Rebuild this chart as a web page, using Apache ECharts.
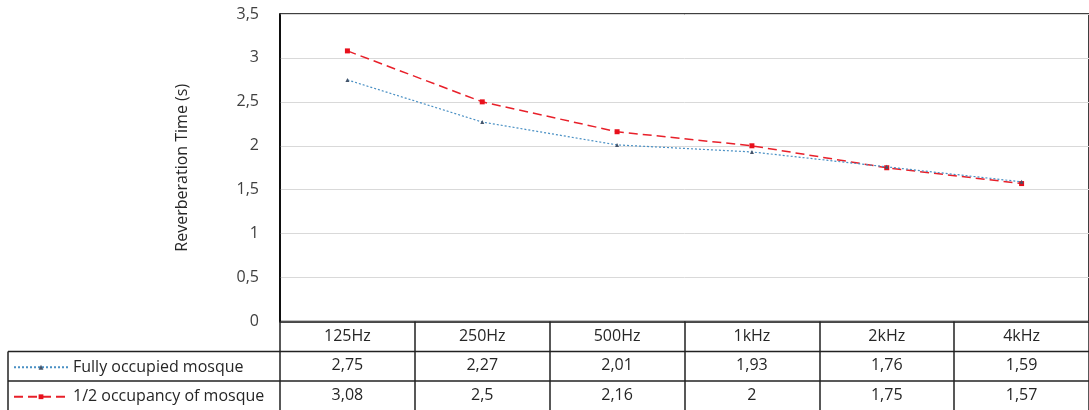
<!DOCTYPE html>
<html>
<head>
<meta charset="utf-8">
<script src="https://cdn.jsdelivr.net/npm/echarts@6/dist/echarts.min.js"></script>
<style>html,body{margin:0;padding:0;background:#fff;}#c{width:1089px;height:410px;}</style>
</head>
<body>
<div id="c"></div>
<script>
var categories = ['125Hz', '250Hz', '500Hz', '1kHz', '2kHz', '4kHz'];
var fullyOccupied = [2.75, 2.27, 2.01, 1.93, 1.76, 1.59];
var halfOccupancy = [3.08, 2.5, 2.16, 2, 1.75, 1.57];
var seriesNames = ['Fully occupied mosque', '1/2 occupancy of mosque'];
var yAxisName = 'Reverberation Time (s)';

function fmt(v) { return String(v).replace('.', ','); }

var GL = 280, GT = 14, GW = 818, GH = 308;
var ROW = 29.5;
var FONT = '"Open Sans", "Noto Sans", sans-serif';
var FS = 16;
var TXT = '#262626';
var lineCol = '#222';

function legendFor(i) {
  return {
    orient: 'vertical', left: 13, top: GT + GH + ROW * (i + 1) + ROW / 2 - 7,
    padding: 0,
    itemWidth: 54, itemHeight: 6, itemGap: 5,
    textStyle: {fontFamily: FONT, fontSize: FS, color: TXT},
    data: [seriesNames[i]]
  };
}

var chart = echarts.init(document.getElementById('c'), null, {renderer: 'canvas'});
chart.setOption({
  animation: false,
  backgroundColor: '#fff',
  grid: {left: GL, top: GT, width: GW, height: GH, show: true, borderColor: '#000', borderWidth: 1.5, containLabel: false},
  legend: [legendFor(0), legendFor(1)],
  xAxis: {
    type: 'category', data: categories, boundaryGap: true,
    axisLine: {show: true, lineStyle: {color: lineCol, width: 1.5}},
    axisTick: {show: true, alignWithLabel: false, length: 90, lineStyle: {color: lineCol, width: 1.5}},
    axisLabel: {
      interval: 0, margin: 0,
      formatter: function (v, i) {
        return '{h|' + v + '}\n{v|' + fmt(fullyOccupied[i]) + '}\n{v|' + fmt(halfOccupancy[i]) + '}';
      },
      rich: {
        h: {fontFamily: FONT, fontSize: FS, color: TXT, lineHeight: ROW, height: ROW},
        v: {fontFamily: FONT, fontSize: FS, color: TXT, lineHeight: ROW, height: ROW}
      }
    },
    splitLine: {show: false}
  },
  yAxis: {
    type: 'value', min: 0, max: 3.5, interval: 0.5,
    name: yAxisName, nameLocation: 'middle', nameGap: 90, nameRotate: 90,
    nameTextStyle: {fontFamily: FONT, fontSize: FS, color: TXT},
    axisLine: {show: true, lineStyle: {color: '#000', width: 1.5}},
    axisTick: {show: false},
    axisLabel: {margin: 21, fontFamily: FONT, fontSize: FS, color: '#404040', formatter: function (v) { return fmt(v); }},
    splitLine: {show: true, lineStyle: {color: '#d9d9d9', width: 1}}
  },
  series: [
    {
      name: seriesNames[0], type: 'line', data: fullyOccupied,
      symbol: 'triangle', symbolSize: 4, showSymbol: true,
      itemStyle: {color: '#44546a'},
      lineStyle: {color: '#4a90c4', width: 1.2, type: [2, 2]},
      z: 3
    },
    {
      name: seriesNames[1], type: 'line', data: halfOccupancy,
      symbol: 'rect', symbolSize: 5, showSymbol: true,
      itemStyle: {color: '#e8101c'},
      lineStyle: {color: '#e8202a', width: 1.5, type: [9, 5]},
      z: 2
    }
  ],
  graphic: [
    {type: 'line', shape: {x1: 8, y1: GT + GH + ROW, x2: 1089, y2: GT + GH + ROW}, style: {stroke: lineCol, lineWidth: 1.5}},
    {type: 'line', shape: {x1: 8, y1: GT + GH + 2 * ROW, x2: 1089, y2: GT + GH + 2 * ROW}, style: {stroke: lineCol, lineWidth: 1.5}},
    {type: 'line', shape: {x1: 8, y1: GT + GH + ROW, x2: 8, y2: 420}, style: {stroke: lineCol, lineWidth: 1.5}}
  ]
});
</script>
</body>
</html>
